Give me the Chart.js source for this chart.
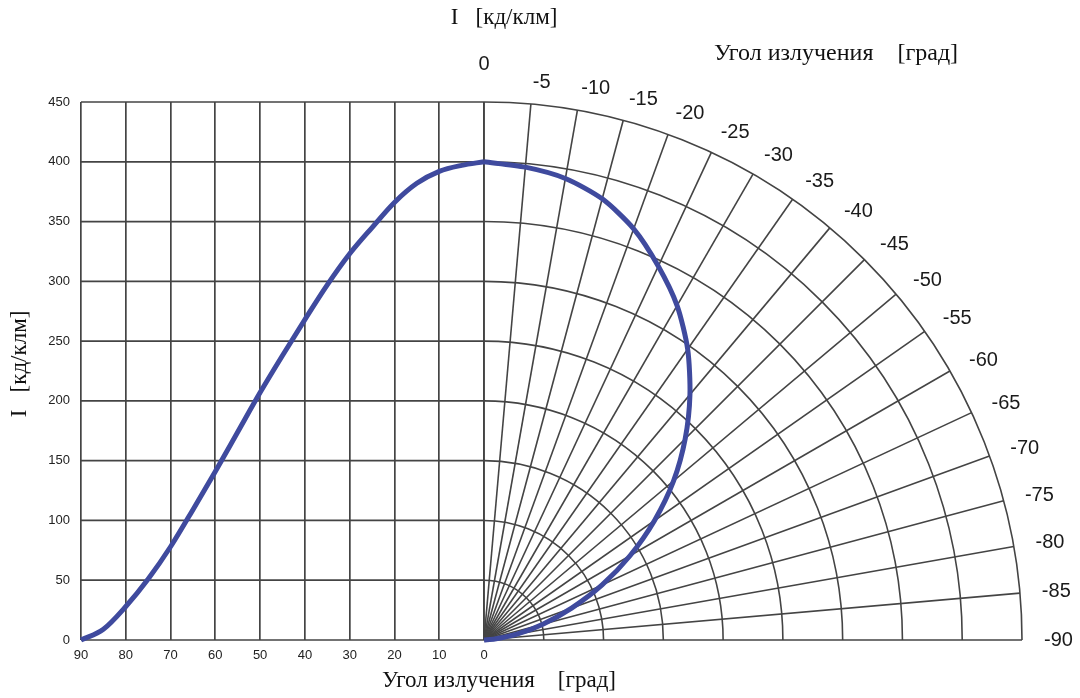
<!DOCTYPE html>
<html>
<head>
<meta charset="utf-8">
<script src="https://cdn.jsdelivr.net/npm/chart.js@4.4.1/dist/chart.umd.min.js"></script>
<style>
  html, body { margin: 0; padding: 0; background: #fff; }
  #wrap { width: 1080px; height: 698px; }
</style>
</head>
<body>
<div id="wrap"><canvas id="graph"></canvas></div>
<script>
// emission angle, degrees (left half goes 90..0, polar quarter 0..-90)
var angles = [0, 5, 10, 15, 20, 25, 30, 35, 40, 45, 50, 55, 60, 65, 70, 75, 80, 85, 90]
// luminous intensity, cd/klm
var intensity = [400, 397, 392, 382, 366, 345, 323, 297, 268, 238, 207, 174, 141, 109, 78, 51, 28, 9, 0]

var yTicks = [0, 50, 100, 150, 200, 250, 300, 350, 400, 450]
var polarRadii = [50, 100, 150, 200, 250, 300, 350, 400, 450]
var polarAngles = [0, -5, -10, -15, -20, -25, -30, -35, -40, -45, -50, -55, -60, -65, -70, -75, -80, -85, -90]

var axisTitleI = 'I   [кд/клм]'
var axisTitleAngle = 'Угол излучения    [град]'

var gridColor = '#444'
var curveColor = '#3f4a9e'

var cartesian = angles.map(function (a, i) { return {x: a, y: intensity[i]} })
var polar = angles.map(function (a, i) {
    var t = a * Math.PI / 180
    return {x: intensity[i] * Math.sin(t), y: intensity[i] * Math.cos(t)}
})

var polarGrid = {
    id: 'polarGrid',
    beforeDatasetsDraw: function (chart) {
        var ctx = chart.ctx
        var sx = chart.scales.x, sp = chart.scales.x2, sy = chart.scales.y
        var cx = sp.getPixelForValue(0), cy = sy.getPixelForValue(0)
        var R = cy - sy.getPixelForValue(polarRadii[polarRadii.length - 1])

        ctx.save()
        ctx.strokeStyle = gridColor
        ctx.lineWidth = 1.7

        // horizontal grid only over the cartesian half
        yTicks.forEach(function (v) {
            var py = sy.getPixelForValue(v)
            ctx.beginPath()
            ctx.moveTo(sx.left, py)
            ctx.lineTo(sx.right, py)
            ctx.stroke()
        })

        ctx.lineWidth = 1.6
        polarRadii.forEach(function (r) {
            var pr = cy - sy.getPixelForValue(r)
            ctx.beginPath()
            ctx.arc(cx, cy, pr, -Math.PI / 2, 0)
            ctx.stroke()
        })

        polarAngles.forEach(function (a) {
            var t = -a * Math.PI / 180
            ctx.beginPath()
            ctx.moveTo(cx, cy)
            ctx.lineTo(cx + R * Math.sin(t), cy - R * Math.cos(t))
            ctx.stroke()
        })

        // angle labels round the quarter
        ctx.fillStyle = '#1a1a1a'
        ctx.font = '20px "Liberation Sans"'
        ctx.textBaseline = 'middle'
        polarAngles.forEach(function (a) {
            var t = -a * Math.PI / 180
            var off = a === 0 ? 38 : 22
            ctx.textAlign = a === 0 ? 'center' : 'left'
            ctx.fillText(String(a), cx + (R + off) * Math.sin(t), cy - (R + off) * Math.cos(t))
        })

        // titles
        ctx.fillStyle = '#111'
        ctx.textAlign = 'center'
        var top = chart.chartArea.top, bottom = chart.chartArea.bottom
        ctx.font = '23px "Liberation Serif"'
        ctx.fillText(axisTitleI, cx + 20, top - 84)
        ctx.fillText(axisTitleAngle, cx + 15, bottom + 41)
        ctx.font = '24px "Liberation Serif"'
        ctx.fillText(axisTitleAngle, cx + 352, top - 48)

        ctx.font = '23px "Liberation Serif"'
        ctx.translate(20, (top + bottom) / 2 - 7)
        ctx.rotate(-Math.PI / 2)
        ctx.fillText(axisTitleI, 0, 0)
        ctx.restore()
    }
}

var ctx = document.getElementById('graph').getContext('2d')

var myChart = new Chart(ctx, {
    type: 'scatter',
    data: {
        datasets: [{
            label: 'I',
            data: cartesian,
            xAxisID: 'x',
            showLine: true,
            borderColor: curveColor,
            borderWidth: 5,
            pointRadius: 0,
            cubicInterpolationMode: 'monotone',
            clip: false
        }, {
            label: 'I polar',
            data: polar,
            xAxisID: 'x2',
            showLine: true,
            borderColor: curveColor,
            borderWidth: 5,
            pointRadius: 0,
            tension: 0.25,
            clip: false
        }]
    },
    options: {
        responsive: true,
        maintainAspectRatio: false,
        animation: false,
        events: [],
        layout: {
            padding: {top: 102, right: 58, bottom: 0, left: 0}
        },
        plugins: {
            legend: {display: false},
            tooltip: {enabled: false}
        },
        scales: {
            x: {
                type: 'linear',
                position: 'bottom',
                stack: 'bottom',
                stackWeight: 403,
                min: 0,
                max: 90,
                reverse: true,
                afterFit: function (s) { s.height = 58 },
                grid: {color: gridColor, lineWidth: 1.7, drawTicks: false},
                border: {display: false},
                ticks: {
                    stepSize: 10,
                    padding: 8,
                    color: '#222',
                    font: {family: 'Liberation Sans', size: 13}
                }
            },
            x2: {
                type: 'linear',
                position: 'bottom',
                stack: 'bottom',
                stackWeight: 538,
                min: 0,
                max: 450,
                afterFit: function (s) { s.height = 58 },
                grid: {display: false},
                border: {display: false},
                ticks: {display: false}
            },
            y: {
                type: 'linear',
                min: 0,
                max: 450,
                afterFit: function (s) { s.width = 81 },
                grid: {display: false},
                border: {display: false},
                ticks: {
                    stepSize: 50,
                    padding: 3,
                    color: '#222',
                    font: {family: 'Liberation Sans', size: 13}
                }
            }
        }
    },
    plugins: [polarGrid]
})
</script>
</body>
</html>
